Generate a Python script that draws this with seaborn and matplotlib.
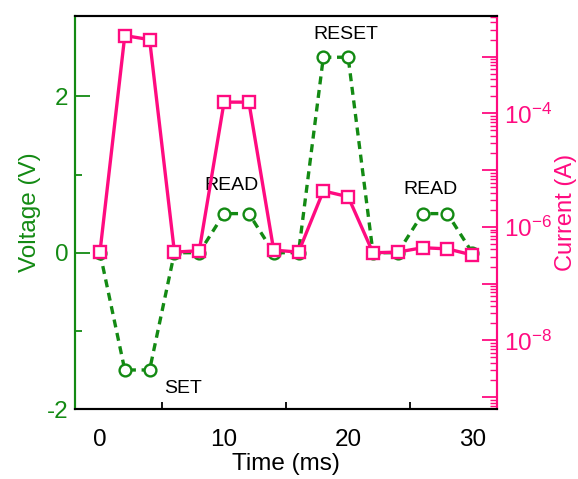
import numpy as np
import pandas as pd
import matplotlib
matplotlib.use("Agg")
import matplotlib.pyplot as plt
import matplotlib.ticker as mticker
import seaborn as sns

sns.set_theme(style="white")
plt.rcParams["font.family"] = ["Liberation Sans", "DejaVu Sans"]
plt.rcParams["mathtext.fontset"] = "custom"
plt.rcParams["mathtext.rm"] = "Liberation Sans"
plt.rcParams["mathtext.it"] = "Liberation Sans"
plt.rcParams["axes.unicode_minus"] = False

# Pulse sequence: applied voltage and measured current
time_ms = [0, 2, 4, 6, 8, 10, 12, 14, 16, 18, 20, 22, 24, 26, 28, 30]
voltage_v = [0, -1.5, -1.5, 0, 0, 0.5, 0.5, 0, 0, 2.5, 2.5, 0, 0, 0.5, 0.5, 0]
current_a = [3.6e-7, 2.35e-3, 2.0e-3, 3.6e-7, 3.8e-7, 1.58e-4, 1.58e-4, 3.9e-7,
             3.6e-7, 4.3e-6, 3.4e-6, 3.5e-7, 3.6e-7, 4.3e-7, 4.1e-7, 3.2e-7]
phase_labels = ["SET", "READ", "RESET", "READ"]
phase_pos = [(6.7, -1.74), (10.6, 0.86), (19.8, 2.79), (26.6, 0.81)]

GREEN = "#138a13"
PINK = "#ff0b80"

df = pd.DataFrame({"t": time_ms, "v": voltage_v, "i": current_a})

fig = plt.figure(figsize=(5.78, 4.79), dpi=100)
ax = fig.add_axes([0.13, 0.146, 0.73, 0.821])
ax2 = ax.twinx()

sns.lineplot(data=df, x="t", y="v", ax=ax, color=GREEN,
             linewidth=2.4, marker="o", markersize=8.5, markerfacecolor="white",
             markeredgecolor=GREEN, markeredgewidth=1.7)
ax.lines[0].set_linestyle((0, (2.4, 1.7)))
sns.lineplot(data=df, x="t", y="i", ax=ax2, color=PINK, linewidth=2.4,
             marker="s", markersize=8.5, markerfacecolor="white",
             markeredgecolor=PINK, markeredgewidth=1.7)

ax.set_xlim(-2, 32)
ax.set_ylim(-2, 3.03)
ax2.set_yscale("log")
ax2.set_ylim(10 ** -9.21, 10 ** -2.28)

for txt, (x, y) in zip(phase_labels, phase_pos):
    ax.text(x, y, txt, ha="center", va="center", fontsize=14, color="black")

# bottom axis and voltage axis
ax.set_xticks([0, 10, 20, 30])
ax.xaxis.set_minor_locator(mticker.FixedLocator([5, 15, 25]))
ax.set_xlabel("Time (ms)", fontsize=17.5, color="black", labelpad=2)
ax.set_ylabel("Voltage (V)", fontsize=17.5, color=GREEN, labelpad=4)
ax.set_yticks([-2, 0, 2])
ax.yaxis.set_minor_locator(mticker.FixedLocator([-1, 1]))

ax.tick_params(axis="x", which="major", direction="in", length=11, width=1.3,
               colors="black", labelsize=17.5, pad=14)
ax.tick_params(axis="x", which="minor", direction="in", length=5, width=1.3,
               colors="black", bottom=True)
ax.tick_params(axis="y", which="major", direction="in", length=11, width=1.3,
               colors=GREEN, labelsize=17.5, pad=5)
ax.tick_params(axis="y", which="minor", direction="in", length=5, width=1.3,
               colors=GREEN, left=True)

# right log current axis
ax2.yaxis.set_major_locator(mticker.LogLocator(base=10, numticks=20))
ax2.yaxis.set_minor_locator(mticker.LogLocator(base=10, subs=np.arange(2, 10), numticks=20))

def fmt(val, pos):
    e = int(round(np.log10(val)))
    return r"$10^{%d}$" % e if e in (-4, -6, -8) else ""

ax2.yaxis.set_major_formatter(mticker.FuncFormatter(fmt))
ax2.yaxis.set_minor_formatter(mticker.NullFormatter())
ax2.tick_params(axis="y", which="major", direction="in", length=11, width=1.3,
                colors=PINK, labelsize=17.5, pad=5)
ax2.tick_params(axis="y", which="minor", direction="in", length=5, width=1.0,
                colors=PINK)
ax2.set_ylabel("Current (A)", fontsize=17, color=PINK, labelpad=2)
ax2.set_xlabel("")

for a in (ax, ax2):
    for s in a.spines.values():
        s.set_linewidth(1.5)
        s.set_color("black")
    a.spines["left"].set_color(GREEN)
    a.spines["right"].set_color(PINK)

fig.savefig("out.png", dpi=100)
